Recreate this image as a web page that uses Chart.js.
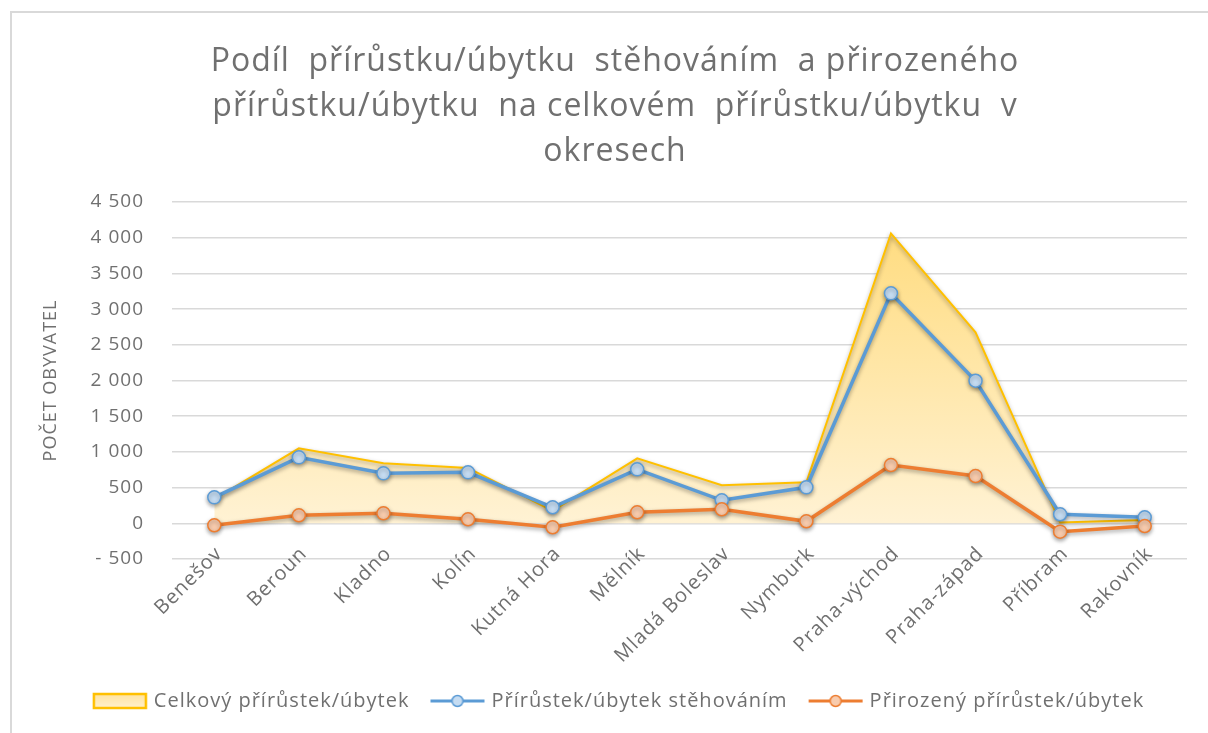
<!DOCTYPE html>
<html>
<head>
<meta charset="utf-8">
<script src="https://cdn.jsdelivr.net/npm/chart.js@4/dist/chart.umd.min.js"></script>
<style>
  html, body { margin: 0; padding: 0; background: #fff; }
  #wrap { width: 1208px; height: 733px; position: relative; }
</style>
</head>
<body>
<div id="wrap"><canvas id="chart" width="1208" height="733"></canvas></div>
<script>
const districts = ["Benešov", "Beroun", "Kladno", "Kolín", "Kutná Hora", "Mělník", "Mladá Boleslav",
                   "Nymburk", "Praha-východ", "Praha-západ", "Příbram", "Rakovník"];
const totalChange = [340, 1050, 840, 775, 175, 910, 532, 574, 4060, 2675, 10, 46];
const migrationChange = [364, 924, 700, 714, 224, 756, 322, 504, 3221, 1997, 126, 84];
const naturalChange = [-28, 112, 140, 56, -56, 154, 196, 28, 816, 662, -117, -38];
const yTicks = [-500, 0, 500, 1000, 1500, 2000, 2500, 3000, 3500, 4000, 4500];

const FONT = "'Open Sans', 'DejaVu Sans', sans-serif";
const TEXT = "#707070";

function fmt(v) {
    const a = Math.abs(v);
    let s = a >= 1000 ? Math.floor(a / 1000) + " " + String(a % 1000).padStart(3, "0") : String(a);
    return v < 0 ? "- " + s : s;
}

// legend icons
function lineIcon(color, fill) {
    const c = document.createElement("canvas");
    c.width = 56; c.height = 16;
    const g = c.getContext("2d");
    g.strokeStyle = color; g.lineWidth = 3;
    g.beginPath(); g.moveTo(1, 8); g.lineTo(55, 8); g.stroke();
    g.beginPath(); g.arc(28, 8, 5.5, 0, Math.PI * 2);
    g.fillStyle = fill; g.fill(); g.lineWidth = 1.5; g.stroke();
    return c;
}
function areaIcon() {
    const c = document.createElement("canvas");
    c.width = 56; c.height = 18;
    const g = c.getContext("2d");
    const gr = g.createLinearGradient(0, 0, 0, 18);
    gr.addColorStop(0, "#ffe29a"); gr.addColorStop(1, "#fff2d2");
    g.fillStyle = gr; g.fillRect(2, 2, 52, 14);
    g.strokeStyle = "#ffc000"; g.lineWidth = 2.5; g.strokeRect(2, 2, 52, 14);
    return c;
}
const icons = [areaIcon(), lineIcon("#5b9bd5", "#c5dcf2"), lineIcon("#ed7d31", "#f8cbad")];

function shiftBox(chart, box, dx) {
    if (box && !box._shifted) {
        const orig = box.draw.bind(box);
        box.draw = function () {
            chart.ctx.save();
            chart.ctx.translate(dx, 0);
            orig();
            chart.ctx.restore();
        };
        box._shifted = true;
    }
}

const frame = {
    id: "frame",
    beforeUpdate(chart) { chart.ctx.letterSpacing = "1px"; },
    afterLayout(chart) {
        shiftBox(chart, chart.legend, 21);
        shiftBox(chart, chart.titleBlock, 16);
    },
    beforeDraw(chart) {
        const ctx = chart.ctx;
        ctx.letterSpacing = "1px";
        ctx.save();
        ctx.strokeStyle = "#d9d9d9"; ctx.lineWidth = 2;
        ctx.beginPath();
        ctx.moveTo(11, 733); ctx.lineTo(11, 12); ctx.lineTo(1208, 12);
        ctx.stroke();
        ctx.restore();
    }
};

const shadow = {
    id: "shadow",
    beforeDatasetDraw(chart) {
        const ctx = chart.ctx;
        ctx.save();
        ctx.shadowColor = "rgba(0,0,0,0.35)";
        ctx.shadowBlur = 4;
        ctx.shadowOffsetY = 2;
    },
    afterDatasetDraw(chart) { chart.ctx.restore(); }
};

function areaGradient(context) {
    const chart = context.chart;
    if (!chart.chartArea) return "#fff2cc";
    const y = chart.scales.y;
    const g = chart.ctx.createLinearGradient(0, y.getPixelForValue(4100), 0, y.getPixelForValue(0));
    g.addColorStop(0, "#ffdc80");
    g.addColorStop(1, "#fff2d4");
    return g;
}

new Chart(document.getElementById("chart"), {
    type: "line",
    data: {
        labels: districts,
        datasets: [
            { label: "Celkový přírůstek/úbytek", data: totalChange, borderColor: "#ffc000", borderWidth: 2,
              backgroundColor: areaGradient, fill: "origin", pointRadius: 0, tension: 0, order: 3 },
            { label: "Přírůstek/úbytek stěhováním", data: migrationChange, borderColor: "#5b9bd5", borderWidth: 3.5,
              pointRadius: 6.5, pointBackgroundColor: "#c5dcf2", pointBorderColor: "#5b9bd5", pointBorderWidth: 1.5,
              fill: false, tension: 0, order: 2 },
            { label: "Přirozený přírůstek/úbytek", data: naturalChange, borderColor: "#ed7d31", borderWidth: 3.5,
              pointRadius: 6.5, pointBackgroundColor: "#f8cbad", pointBorderColor: "#ed7d31", pointBorderWidth: 1.5,
              fill: false, tension: 0, order: 1 }
        ]
    },
    options: {
        responsive: false,
        animation: false,
        layout: { padding: { left: 11, right: 21, top: 0, bottom: 12 } },
        plugins: {
            title: {
                display: true,
                text: ["Podíl  přírůstku/úbytku  stěhováním  a přirozeného",
                       "přírůstku/úbytku  na celkovém  přírůstku/úbytku  v",
                       "okresech"],
                color: TEXT,
                font: { family: FONT, size: 32, weight: "normal", lineHeight: "45px" },
                padding: { top: 39, bottom: 28 }
            },
            legend: {
                position: "bottom",
                labels: {
                    color: TEXT,
                    font: { family: FONT, size: 20 },
                    usePointStyle: true,
                    pointStyleWidth: 48,
                    boxHeight: 16,
                    padding: 24,
                    generateLabels(chart) {
                        return chart.data.datasets.map((ds, i) => ({
                            text: ds.label, datasetIndex: i, pointStyle: icons[i],
                            fontColor: TEXT, hidden: false, lineWidth: 0, strokeStyle: "transparent", fillStyle: "transparent"
                        }));
                    }
                }
            },
            tooltip: { enabled: false }
        },
        scales: {
            x: {
                offset: true,
                grid: { display: false, drawTicks: false },
                border: { display: false },
                ticks: { color: TEXT, font: { family: FONT, size: 20 }, maxRotation: 45, minRotation: 45,
                         padding: -17, labelOffset: 5 },
                afterFit(scale) {
                    scale.height = 108;
                    scale._computeLabelArea = () => undefined; // let labels touch the bottom gridline
                }
            },
            y: {
                min: yTicks[0],
                max: yTicks[yTicks.length - 1],
                afterBuildTicks(scale) { scale.ticks = yTicks.map(v => ({ value: v })); },
                grid: { color: "#d9d9d9", lineWidth: 1.5, drawTicks: false },
                border: { display: false },
                ticks: { color: TEXT, font: { family: FONT, size: 19 }, padding: 28, callback: v => fmt(v) },
                title: { display: true, text: "POČET OBYVATEL", color: TEXT,
                         font: { family: FONT, size: 18 }, padding: { top: 29, bottom: 0 } },
                afterFit(scale) { scale.width = 161; }
            }
        }
    },
    plugins: [frame, shadow]
});
</script>
</body>
</html>
